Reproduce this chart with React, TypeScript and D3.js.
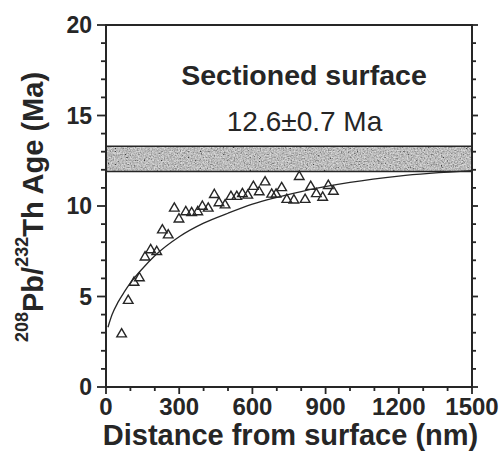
import * as d3 from "d3";

// measured points: distance (nm) and 208Pb/232Th age (Ma)
const distance = [
  64, 91, 115, 137, 160, 183, 208, 231, 255, 280, 299, 327, 351, 376, 395, 419,
  444, 463, 488, 512, 536, 559, 581, 604, 628, 652, 679, 697, 720, 741, 770, 792,
  816, 839, 862, 888, 911, 932,
];
const age = [
  2.95, 4.8, 5.8, 6.05, 7.2, 7.6, 7.5, 8.7, 8.42, 9.9, 9.3, 9.7, 9.65, 9.7, 10.0,
  9.9, 10.65, 10.2, 10.08, 10.55, 10.55, 10.7, 10.62, 11.1, 10.8, 11.35, 10.67,
  10.67, 11.03, 10.38, 10.35, 11.65, 10.38, 11.1, 10.7, 10.5, 11.15, 10.83,
];

// fitted curve
const fitX = [8, 25, 50, 75, 100, 150, 200, 300, 400, 500, 600, 800, 1000, 1200, 1500];
const fitY = [3.3, 4.0, 4.7, 5.25, 5.75, 6.55, 7.25, 8.3, 9.05, 9.6, 10.1, 10.8, 11.3, 11.65, 11.95];

// sectioned surface age band (12.6 ± 0.7 Ma)
const band = [11.9, 13.3];

const xTicks = [0, 300, 600, 900, 1200, 1500];
const yTicks = [0, 5, 10, 15, 20];

const ink = "#262626";
const font = "'Liberation Sans', Arial, sans-serif";

export default function App() {
  const left = 106;
  const right = 472;
  const top = 25;
  const bottom = 387;

  const x = d3.scaleLinear().domain([0, 1500]).range([left, right]);
  const y = d3.scaleLinear().domain([0, 20]).range([bottom, top]);

  const line = d3
    .line<number>()
    .x((d) => x(d))
    .y((d, i) => y(fitY[i]))
    .curve(d3.curveMonotoneX);

  const xMinor = d3.range(0, 1501, 100);
  const yMinor = d3.range(0, 21, 1);

  return (
    <svg width={502} height={454} style={{ position: "absolute", left: 0, top: 0, background: "#fff" }}>
      <defs>
        <filter id="grain" x="0" y="0" width="100%" height="100%">
          <feTurbulence type="fractalNoise" baseFrequency="0.7" numOctaves={3} seed={4} />
          <feColorMatrix
            type="matrix"
            values="0.9 0.9 0.9 0 -0.75  0.9 0.9 0.9 0 -0.75  0.9 0.9 0.9 0 -0.75  0 0 0 0 0.6"
          />
        </filter>
      </defs>

      {/* band */}
      <rect x={left} y={y(band[1])} width={right - left} height={y(band[0]) - y(band[1])} fill="#a2a2a2" />
      <rect
        x={left}
        y={y(band[1])}
        width={right - left}
        height={y(band[0]) - y(band[1])}
        fill="#fff"
        filter="url(#grain)"
      />
      {band.map((b) => (
        <line key={b} x1={left} x2={right} y1={y(b)} y2={y(b)} stroke={ink} strokeWidth={1.5} />
      ))}

      {/* fit curve */}
      <path d={line(fitX) ?? ""} fill="none" stroke={ink} strokeWidth={1.3} />

      {/* points */}
      {distance.map((d, i) => (
        <path
          key={i}
          transform={`translate(${x(d)},${y(age[i])})`}
          d="M0,-5 L4.8,3.3 L-4.8,3.3 Z"
          fill="none"
          stroke={ink}
          strokeWidth={1.4}
          strokeLinejoin="miter"
        />
      ))}

      {/* frame */}
      <rect x={left} y={top} width={right - left} height={bottom - top} fill="none" stroke={ink} strokeWidth={2} />

      {/* left and right ticks */}
      {yMinor.map((v) => {
        const major = v % 5 === 0;
        return (
          <g key={v}>
            <line x1={left - (major ? 9 : 5)} x2={left} y1={y(v)} y2={y(v)} stroke={ink} strokeWidth={1.8} />
            <line x1={right} x2={right + (major ? 6 : 4)} y1={y(v)} y2={y(v)} stroke={ink} strokeWidth={1.8} />
          </g>
        );
      })}
      {/* bottom ticks */}
      {xMinor.map((v) => {
        const major = v % 300 === 0;
        return (
          <line key={v} x1={x(v)} x2={x(v)} y1={bottom} y2={bottom + (major ? 7 : 4)} stroke={ink} strokeWidth={1.8} />
        );
      })}

      {/* tick labels */}
      {yTicks.map((v) => (
        <text
          key={v}
          x={92}
          y={y(v)}
          dy="0.36em"
          textAnchor="end"
          fontFamily={font}
          fontWeight="bold"
          fontSize={23}
          fill={ink}
        >
          {v}
        </text>
      ))}
      {xTicks.map((v) => (
        <text
          key={v}
          x={x(v)}
          y={415}
          textAnchor="middle"
          fontFamily={font}
          fontWeight="bold"
          fontSize={24}
          fill={ink}
        >
          {v}
        </text>
      ))}

      {/* annotations */}
      <text x={304} y={85} textAnchor="middle" fontFamily={font} fontWeight="bold" fontSize={28.5} fill={ink}>
        Sectioned surface
      </text>
      <text x={304.5} y={131} textAnchor="middle" fontFamily={font} fontSize={28} fill={ink}>
        12.6±0.7 Ma
      </text>

      {/* axis titles */}
      <text x={290.5} y={445} textAnchor="middle" fontFamily={font} fontWeight="bold" fontSize={29} fill={ink}>
        Distance from surface (nm)
      </text>
      <text
        transform="translate(43,207) rotate(-90)"
        textAnchor="middle"
        fontFamily={font}
        fontWeight="bold"
        fontSize={29}
        fill={ink}
      >
        <tspan fontSize={18} dy={-15}>208</tspan>
        <tspan dy={15}>Pb/</tspan>
        <tspan fontSize={18} dy={-15}>232</tspan>
        <tspan dy={15}>Th Age (Ma)</tspan>
      </text>
    </svg>
  );
}
